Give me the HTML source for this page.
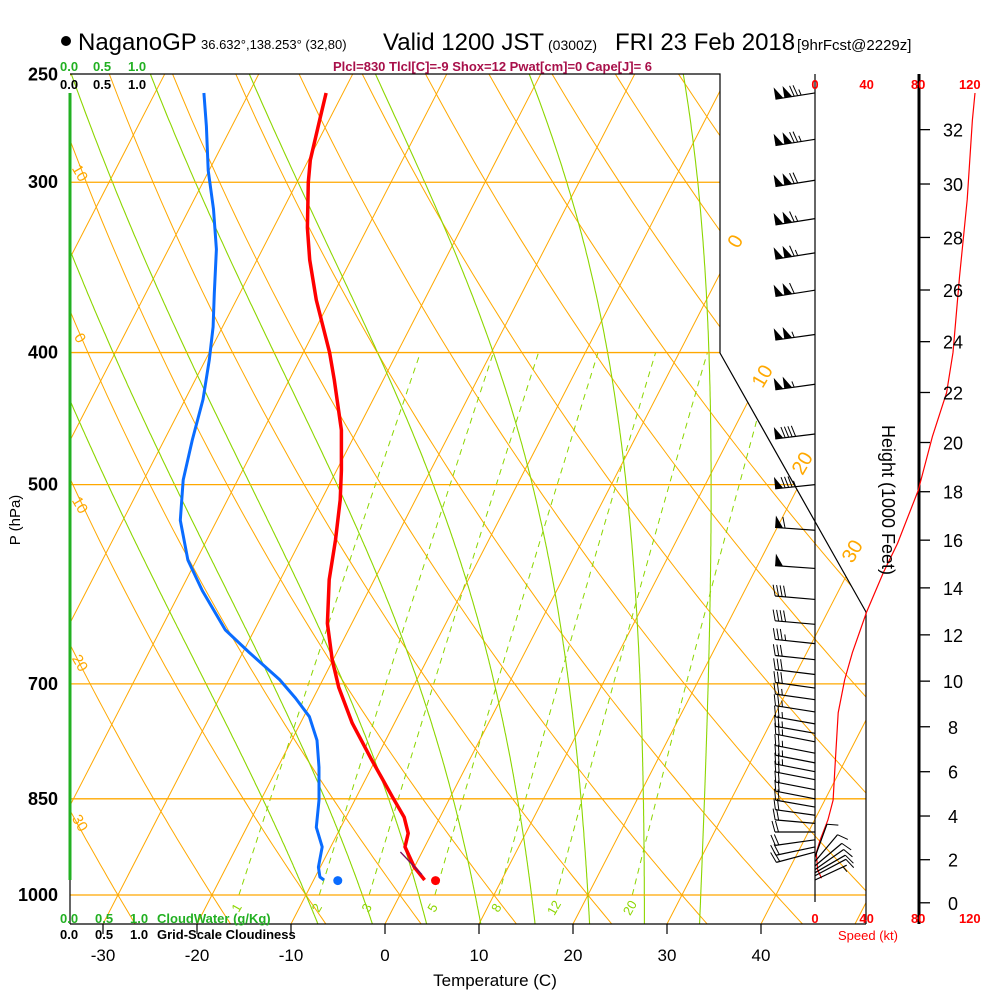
<!DOCTYPE html>
<html><head><meta charset="utf-8"><title>NaganoGP Skew-T</title>
<style>
html,body{margin:0;padding:0;background:#fff;}
svg{display:block;font-family:"Liberation Sans",Arial,sans-serif;}
.b{font-weight:bold;}
</style></head>
<body>
<svg id="chart" width="1000" height="1000" viewBox="0 0 1000 1000" xmlns="http://www.w3.org/2000/svg">
<defs>
<clipPath id="plotclip"><polygon points="70,74 720,74 720,353 866,612 866,924 70,924"/></clipPath>
</defs>
<g id="grid" clip-path="url(#plotclip)"></g>
<g id="frame" fill="none" stroke="#000" stroke-width="1.2">
<polyline points="70,74 720,74 720,353 866,612 866,924"/>
<line x1="70" y1="924" x2="866" y2="924"/>
<line x1="70" y1="880" x2="70" y2="924"/>
<line x1="815" y1="74" x2="815" y2="902"/>
<line x1="919" y1="74" x2="919" y2="924" stroke-width="3"/>
</g>
<line x1="70" y1="93" x2="70" y2="880" stroke="#22b022" stroke-width="3"/>
<g id="profiles"></g>
<g id="winds"></g>
<g id="axes"></g>

<g>
<circle cx="66" cy="41" r="5" fill="#000"/>
<text x="78" y="50" font-size="24">NaganoGP</text>
<text x="201" y="49" font-size="13">36.632°,138.253° (32,80)</text>
<text x="383" y="50" font-size="24">Valid 1200 JST</text>
<text x="548" y="50" font-size="14">(0300Z)</text>
<text x="615" y="50" font-size="24">FRI 23 Feb 2018</text>
<text x="797" y="50" font-size="15">[9hrFcst@2229z]</text>
</g>
<text x="333" y="71" font-size="13" class="b" fill="#a8104a">Plcl=830 Tlcl[C]=-9 Shox=12 Pwat[cm]=0 Cape[J]= 6</text>
<g font-size="13" class="b">
<text x="60" y="71" fill="#22b022">0.0</text><text x="93" y="71" fill="#22b022">0.5</text><text x="128" y="71" fill="#22b022">1.0</text>
<text x="60" y="89" fill="#000">0.0</text><text x="93" y="89" fill="#000">0.5</text><text x="128" y="89" fill="#000">1.0</text>
</g>
<g font-size="13" class="b">
<text x="60" y="923" fill="#22b022">0.0</text><text x="95" y="923" fill="#22b022">0.5</text><text x="130" y="923" fill="#22b022">1.0</text>
<text x="157" y="923" fill="#22b022">CloudWater (g/Kg)</text>
<text x="60" y="939" fill="#000">0.0</text><text x="95" y="939" fill="#000">0.5</text><text x="130" y="939" fill="#000">1.0</text>
<text x="157" y="939" fill="#000">Grid-Scale Cloudiness</text>
</g>
<text x="495" y="986" font-size="17" text-anchor="middle">Temperature (C)</text>
<text transform="translate(20,520) rotate(-90)" font-size="15" text-anchor="middle">P (hPa)</text>
<text transform="translate(882,500) rotate(90)" font-size="18" text-anchor="middle">Height (1000 Feet)</text>
<text x="868" y="940" font-size="13" fill="#f00" text-anchor="middle">Speed (kt)</text>

<script>
// ---------------- data ----------------
const pressureTicks=[250,300,400,500,700,850,1000];
const tempTicks=[-30,-20,-10,0,10,20,30,40];
const heightTicks=[0,2,4,6,8,10,12,14,16,18,20,22,24,26,28,30,32];
const speedTicks=[0,40,80,120];
const mixRatios=[1,2,3,5,8,12,20];
const moistStarts=[-10,-4,2,8,14,20,26,32];
const tempP=[258,270,289,300,324,342,366,400,419,456,488,513,549,587,632,672,704,748,796,847,877,901,922,954,975];
const tempT=[-51.8,-51.0,-49.8,-48.8,-46.4,-44.4,-41.5,-37.2,-35.2,-31.7,-29.5,-28.0,-26.3,-24.8,-22.6,-20.1,-17.9,-14.5,-10.4,-6.2,-3.8,-2.5,-2.1,0.0,1.8];
const dewP=[258,273,294,314,336,362,383,405,433,464,496,531,568,598,639,664,695,717,740,770,806,852,892,922,954,970,975];
const dewT=[-64.8,-62.7,-60.1,-57.4,-54.9,-52.7,-51.0,-49.6,-48.1,-47.0,-45.8,-43.9,-40.9,-37.7,-33.1,-29.3,-24.6,-21.9,-19.4,-17.3,-15.6,-13.8,-12.6,-10.9,-10.2,-9.5,-8.9];
const sfcP=976, sfcT=3.0, sfcTd=-7.4;
const speedP=[258,270,309,352,400,428,461,505,552,580,620,664,695,735,805,852,881,911,931,958,972];
const speedKt=[124,122,118,112,107,102,91,80,64,53,40,29,23,18,15.5,14,10,4,1,2,5];
const barbP=[258,279,299,319,338,360,388,422,459,500,540,576,607,633,654,672,689,705,719,734,749,761,772,787,800,812,823,837,850,862,874,886,899,911,922,930,938,945,952,958,963,968,975];
const barbKt=[125,125,120,115,115,110,105,105,90,85,60,50,40,40,35,30,30,30,25,25,25,25,25,25,25,25,20,20,20,20,20,20,20,20,20,20,10,10,10,10,10,10,5];
const barbDir=[261,261,261,261,261,261,262,262,263,264,274,274,275,275,276,276,277,278,278,279,280,280,281,281,281,281,281,281,281,280,278,275,270,262,258,255,20,40,50,55,60,62,65];

// ---------------- scales ----------------
const NS='http://www.w3.org/2000/svg';
function yP(p){return 895-592*Math.log(1000/p);}
function xT(T,p){return 385+9.4*T+0.515*(924-yP(p));}
function xSpd(k){return 815+1.29*k;}
function pFromFt(kft){const z=kft*304.8;return 1013.25*Math.pow(1-2.25577e-5*z,5.25588);}
function mk(tag,attrs,parent){const e=document.createElementNS(NS,tag);for(const k in attrs)e.setAttribute(k,attrs[k]);parent.appendChild(e);return e;}
function pathFrom(pts){return pts.map((q,i)=>(i?'L':'M')+q[0].toFixed(1)+','+q[1].toFixed(1)).join('');}

const grid=document.getElementById('grid');
const OR='#ffa800', GR='#8cd600';

for(let T=-120;T<=60;T+=10){
  const l=mk('line',{x1:xT(T,1050),y1:yP(1050),x2:xT(T,250),y2:yP(250),stroke:OR,'stroke-width':1},grid);
  
  
}
for(let th=-40;th<=220;th+=10){
  const pts=[];
  for(let p=1050;p>=250;p-=10){const T=(th+273.15)*Math.pow(p/1000,0.2857)-273.15;pts.push([xT(T,p),yP(p)]);}
  const e=mk('path',{d:pathFrom(pts),fill:'none',stroke:OR,'stroke-width':1},grid);
  
  
}
function satMix(T,p){const es=6.112*Math.exp(17.67*(T-273.15)/(T-29.65));return 0.622*es/(p-es);}
function moistLine(T0){
  const Rd=287,cp=1005,Lv=2.5e6;
  const up=[],dn=[];
  let T=T0+273.15;
  for(let p=1000;p>=250;p-=2){up.push([xT(T-273.15,p),yP(p)]);const rs=satMix(T,p);const d=(Rd*T+Lv*rs)/(p*(cp+Lv*Lv*rs*0.622/(Rd*T*T)));T-=d*2;}
  T=T0+273.15;
  for(let p=1000;p<=1050;p+=2){dn.unshift([xT(T-273.15,p),yP(p)]);const rs=satMix(T,p);const d=(Rd*T+Lv*rs)/(p*(cp+Lv*Lv*rs*0.622/(Rd*T*T)));T+=d*2;}
  return dn.concat(up);
}
moistStarts.forEach(T0=>{
  const e=mk('path',{d:pathFrom(moistLine(T0)),fill:'none',stroke:GR,'stroke-width':1.1},grid);
  
  
});
function mixT(w,p){const e=w*p/(622+w);const l=Math.log(e/6.112);return 243.5*l/(17.67-l);}
mixRatios.forEach(w=>{
  const pts=[];for(let p=1000;p>=400;p-=10)pts.push([xT(mixT(w,p),p),yP(p)]);
  const e=mk('path',{d:pathFrom(pts),fill:'none',stroke:GR,'stroke-width':1,'stroke-dasharray':'6,5'},grid);
  
  
  const x=xT(mixT(w,1000),1000)-2,y=912;
  const t=mk('text',{x:x,y:y,'font-size':13,fill:GR,'text-anchor':'middle',transform:`rotate(-60 ${x} ${y-4})`},grid);
  t.textContent=String(w);
  
  
});
pressureTicks.forEach(p=>{
  if(p===250)return;
  const l=mk('line',{x1:70,y1:yP(p),x2:866,y2:yP(p),stroke:OR,'stroke-width':1.3},grid);
  
  
});

const ax=document.getElementById('axes');
[[10,80,178],[0,80,343],[10,80,510],[20,80,668],[30,80,828]].forEach(a=>{
  const t=mk('text',{x:a[1],y:a[2],'font-size':15,fill:OR,'text-anchor':'middle',transform:`rotate(60 ${a[1]} ${a[2]-5})`},ax);
  t.textContent=String(a[0]);
  
  
});
[[0,735,248],[10,762,383],[20,802,470],[30,852,558]].forEach(a=>{
  const t=mk('text',{x:a[1],y:a[2],'font-size':20,fill:OR,'text-anchor':'middle',transform:`rotate(-60 ${a[1]} ${a[2]-7})`},ax);
  t.textContent=String(a[0]);
  
  
});

pressureTicks.forEach(p=>{
  const t=mk('text',{x:58,y:yP(p)+6,'font-size':18,'font-weight':'bold','text-anchor':'end'},ax);
  t.textContent=String(p);
  
  
});
tempTicks.forEach(T=>{
  const x=385+9.4*T;
  const l=mk('line',{x1:x,y1:924,x2:x,y2:934,stroke:'#000','stroke-width':1.2},ax);
  
  
  const t=mk('text',{x:x,y:961,'font-size':17,'text-anchor':'middle'},ax);
  t.textContent=String(T);
  
  
});
heightTicks.forEach(h=>{
  const y=yP(pFromFt(h));
  const l=mk('line',{x1:919,y1:y,x2:930,y2:y,stroke:'#000','stroke-width':1.3},ax);
  
  
  const t=mk('text',{x:953,y:y+7,'font-size':18,'text-anchor':'middle'},ax);
  t.textContent=String(h);
  
  
});
speedTicks.forEach(k=>{
  const x=xSpd(k);
  const t1=mk('text',{x:x,y:89,'font-size':13,'font-weight':'bold',fill:'#f00','text-anchor':'middle'},ax);
  t1.textContent=String(k);
  
  
  const t2=mk('text',{x:x,y:923,'font-size':13,'font-weight':'bold',fill:'#f00','text-anchor':'middle'},ax);
  t2.textContent=String(k);
  
  
});

const pr=document.getElementById('profiles');
const sp=mk('path',{d:pathFrom(speedP.map((p,i)=>[xSpd(speedKt[i]),yP(p)])),fill:'none',stroke:'#f00','stroke-width':1.2},pr);


const tl=mk('path',{d:pathFrom(tempP.map((p,i)=>[xT(tempT[i],p),yP(p)])),fill:'none',stroke:'#f00','stroke-width':3.5,'stroke-linejoin':'round'},pr);


const dl=mk('path',{d:pathFrom(dewP.map((p,i)=>[xT(dewT[i],p),yP(p)])),fill:'none',stroke:'#0a6cff','stroke-width':3,'stroke-linejoin':'round'},pr);


const pl=mk('path',{d:pathFrom([[xT(-2.3,930),yP(930)],[xT(1.2,966),yP(966)]]),fill:'none',stroke:'#7a1060','stroke-width':1.3},pr);


const tc=mk('circle',{cx:xT(sfcT,sfcP),cy:yP(sfcP),r:4.5,fill:'#f00'},pr);


const dc=mk('circle',{cx:xT(sfcTd,sfcP),cy:yP(sfcP),r:4.5,fill:'#0a6cff'},pr);



const wg=document.getElementById('winds');
barbP.forEach((p,i)=>{
  const g=mk('g',{},wg);
  
  
  const d=barbDir[i]*Math.PI/180;
  const u=[Math.sin(d),-Math.cos(d)], n=[-u[1],u[0]];
  const x0=815,y0=yP(p),L=(barbDir[i]<180)?35:40;
  const tx=x0+L*u[0],ty=y0+L*u[1];
  mk('line',{x1:x0,y1:y0,x2:tx,y2:ty,stroke:'#000','stroke-width':1.2},g);
  let s=Math.round(barbKt[i]/5)*5,pos=0;
  while(s>=50){
    const ax1=tx-pos*u[0],ay1=ty-pos*u[1];
    mk('polygon',{points:`${ax1},${ay1} ${ax1+12*n[0]},${ay1+12*n[1]} ${ax1-8*u[0]},${ay1-8*u[1]}`,fill:'#000'},g);
    pos+=9;s-=50;
  }
  if(pos>0)pos+=1;
  while(s>=10){
    const bx=tx-pos*u[0],by=ty-pos*u[1];
    mk('line',{x1:bx,y1:by,x2:bx+11*n[0]+3*u[0],y2:by+11*n[1]+3*u[1],stroke:'#000','stroke-width':1},g);
    pos+=3.5;s-=10;
  }
  if(s>=5){
    if(pos===0)pos=4;
    const bx=tx-pos*u[0],by=ty-pos*u[1];
    mk('line',{x1:bx,y1:by,x2:bx+6*n[0]+1.5*u[0],y2:by+6*n[1]+1.5*u[1],stroke:'#000','stroke-width':1},g);
  }
});
</script>
</svg>
</body></html>
